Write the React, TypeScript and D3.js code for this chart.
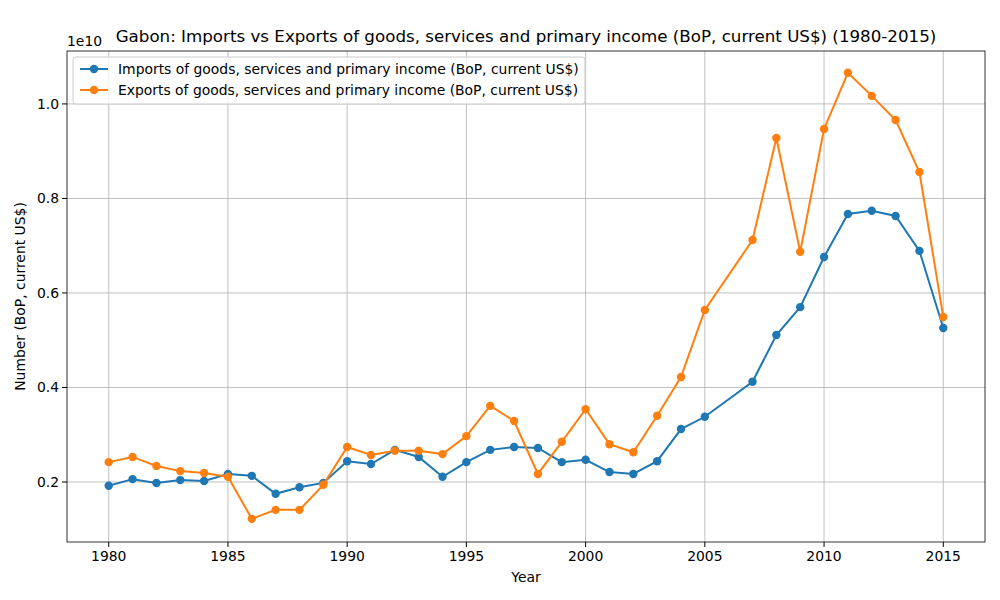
import { useEffect, useRef } from 'react';
import * as d3 from 'd3';

const years = [1980, 1981, 1982, 1983, 1984, 1985, 1986, 1987, 1988, 1989, 1990, 1991, 1992, 1993, 1994, 1995, 1996, 1997, 1998, 1999, 2000, 2001, 2002, 2003, 2004, 2005, 2007, 2008, 2009, 2010, 2011, 2012, 2013, 2014, 2015];
// values in units of 1e10 US$
const imports = [0.192, 0.206, 0.198, 0.204, 0.202, 0.217, 0.213, 0.175, 0.189, 0.198, 0.244, 0.238, 0.268, 0.253, 0.211, 0.242, 0.268, 0.274, 0.272, 0.242, 0.247, 0.221, 0.217, 0.244, 0.312, 0.338, 0.412, 0.511, 0.570, 0.676, 0.767, 0.774, 0.763, 0.689, 0.526];
const exportsV = [0.242, 0.253, 0.234, 0.223, 0.219, 0.211, 0.122, 0.141, 0.141, 0.194, 0.274, 0.257, 0.266, 0.266, 0.259, 0.297, 0.361, 0.329, 0.217, 0.285, 0.354, 0.280, 0.263, 0.340, 0.422, 0.564, 0.712, 0.928, 0.687, 0.947, 1.066, 1.017, 0.966, 0.856, 0.549];
const xTicks = [1980, 1985, 1990, 1995, 2000, 2005, 2010, 2015];
const yTicks = [0.2, 0.4, 0.6, 0.8, 1.0];
const seriesNames = [
  'Imports of goods, services and primary income (BoP, current US$)',
  'Exports of goods, services and primary income (BoP, current US$)',
];
const colors = ['#1f77b4', '#ff7f0e'];

export default function App() {
  const svgRef = useRef<SVGSVGElement>(null);

  useEffect(() => {
    document.body.style.margin = '0';
    if (!svgRef.current) return;
    const svg = d3.select(svgRef.current);
    svg.selectAll('*').remove();
    const font = 'DejaVu Sans, sans-serif';
    const fs = 13.9;

    const m = { l: 67, r: 15, t: 51, b: 58 };
    const w = 1000, h = 600;
    const x = d3.scaleLinear().domain([1978.25, 2016.75]).range([m.l, w - m.r]);
    const y = d3.scaleLinear().domain([0.073, 1.112]).range([h - m.b, m.t]);

    const g = svg.append('g');
    // grid
    xTicks.forEach(t => g.append('line').attr('x1', x(t)).attr('x2', x(t)).attr('y1', m.t).attr('y2', h - m.b)
      .attr('stroke', '#b0b0b0').attr('stroke-width', 0.8));
    yTicks.forEach(t => g.append('line').attr('y1', y(t)).attr('y2', y(t)).attr('x1', m.l).attr('x2', w - m.r)
      .attr('stroke', '#b0b0b0').attr('stroke-width', 0.8));

    // ticks
    xTicks.forEach(t => {
      g.append('line').attr('x1', x(t)).attr('x2', x(t)).attr('y1', h - m.b).attr('y2', h - m.b + 5).attr('stroke', '#000');
      g.append('text').attr('x', x(t)).attr('y', h - m.b + 19).attr('text-anchor', 'middle')
        .attr('font-family', font).attr('font-size', fs).text(String(t));
    });
    yTicks.forEach(t => {
      g.append('line').attr('x1', m.l - 5).attr('x2', m.l).attr('y1', y(t)).attr('y2', y(t)).attr('stroke', '#000');
      g.append('text').attr('x', m.l - 8).attr('y', y(t) + 5).attr('text-anchor', 'end')
        .attr('font-family', font).attr('font-size', fs).text(t.toFixed(1));
    });
    g.append('text').attr('x', m.l).attr('y', 46).attr('font-family', font).attr('font-size', fs).text('1e10');

    // series
    [imports, exportsV].forEach((vals, si) => {
      const pts = years.map((yr, i) => [yr, vals[i]] as [number, number]);
      g.append('path').attr('d', d3.line<[number, number]>().x(d => x(d[0])).y(d => y(d[1]))(pts))
        .attr('fill', 'none').attr('stroke', colors[si]).attr('stroke-width', 2);
      g.selectAll(null).data(pts).enter().append('circle')
        .attr('cx', d => x(d[0])).attr('cy', d => y(d[1])).attr('r', 4.2).attr('fill', colors[si]);
    });

    // frame
    g.append('rect').attr('x', m.l).attr('y', m.t).attr('width', w - m.l - m.r).attr('height', h - m.t - m.b)
      .attr('fill', 'none').attr('stroke', '#000').attr('stroke-width', 0.8);

    // legend
    g.append('rect').attr('x', 73).attr('y', 57).attr('width', 512).attr('height', 47).attr('rx', 3)
      .attr('fill', 'rgba(255,255,255,0.8)').attr('stroke', '#ccc');
    seriesNames.forEach((name, i) => {
      const ly = 69 + i * 21;
      g.append('line').attr('x1', 80).attr('x2', 108).attr('y1', ly).attr('y2', ly).attr('stroke', colors[i]).attr('stroke-width', 2);
      g.append('circle').attr('cx', 94).attr('cy', ly).attr('r', 4.2).attr('fill', colors[i]);
      g.append('text').attr('x', 118).attr('y', ly + 5).attr('font-family', font).attr('font-size', fs).text(name);
    });

    // labels
    g.append('text').attr('x', (m.l + w - m.r) / 2).attr('y', 42).attr('text-anchor', 'middle')
      .attr('font-family', font).attr('font-size', 16.7)
      .text('Gabon: Imports vs Exports of goods, services and primary income (BoP, current US$) (1980-2015)');
    g.append('text').attr('x', (m.l + w - m.r) / 2).attr('y', 582).attr('text-anchor', 'middle')
      .attr('font-family', font).attr('font-size', fs).text('Year');
    g.append('text').attr('transform', `translate(25,${(m.t + h - m.b) / 2}) rotate(-90)`).attr('text-anchor', 'middle')
      .attr('font-family', font).attr('font-size', fs).text('Number (BoP, current US$)');
  }, []);

  return <svg ref={svgRef} width={1000} height={600} style={{ display: 'block', background: '#fff' }} />;
}
